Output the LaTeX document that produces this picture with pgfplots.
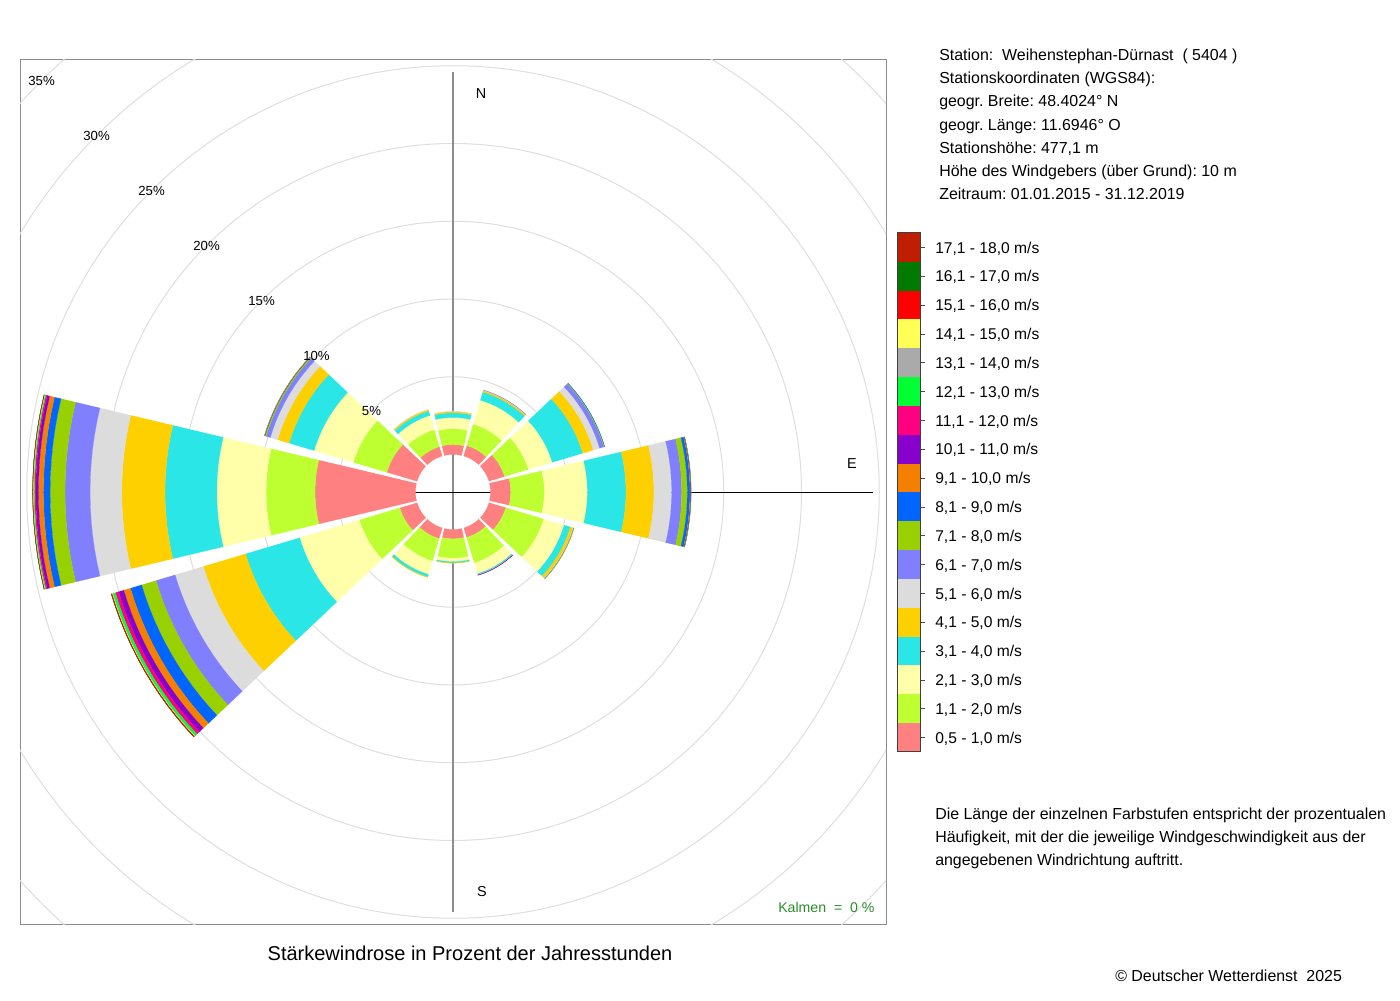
\documentclass[border=0pt]{standalone}
\usepackage{fontspec}
\setmainfont{Liberation Sans}
\usepackage{pgfplots}
\usepackage{pgfplotstable}
\pgfplotsset{compat=1.18}
\frenchspacing

\definecolor{k1}{RGB}{255,128,128}
\definecolor{k2}{RGB}{190,255,50}
\definecolor{k3}{RGB}{255,255,170}
\definecolor{k4}{RGB}{42,230,230}
\definecolor{k5}{RGB}{255,208,0}
\definecolor{k6}{RGB}{220,220,220}
\definecolor{k7}{RGB}{128,128,255}
\definecolor{k8}{RGB}{152,208,0}
\definecolor{k9}{RGB}{0,102,255}
\definecolor{k10}{RGB}{245,128,0}
\definecolor{k11}{RGB}{136,0,204}
\definecolor{k12}{RGB}{255,0,128}
\definecolor{k13}{RGB}{0,255,51}
\definecolor{k14}{RGB}{170,170,170}
\definecolor{k15}{RGB}{255,255,85}
\definecolor{k16}{RGB}{255,0,0}
\definecolor{k17}{RGB}{0,122,0}
\definecolor{k18}{RGB}{192,30,0}
\definecolor{kalm}{RGB}{40,140,40}

% percentage of hours per direction (bearing) and speed class
\pgfplotstableread{
dir c1 c2 c3 c4 c5 c6 c7 c8 c9 c10 c11 c12 c13 c14 c15 c16 c17 c18
0   0.64 1.02 0.72 0.30 0.08 0.01 0    0    0    0    0    0    0    0    0    0    0    0
30  0.70 1.45 1.60 0.55 0.10 0.02 0.01 0    0    0    0    0    0    0    0    0    0    0
60  1.05 1.60 1.60 2.05 0.71 0.42 0.28 0.05 0.01 0    0    0    0    0    0    0    0    0
90  1.30 2.16 2.77 2.48 1.80 1.14 0.65 0.36 0.17 0.04 0.02 0.01 0.01 0    0    0    0    0
120 1.13 2.55 1.37 0.42 0.18 0.03 0.03 0.01 0    0    0    0    0    0    0    0    0    0
150 0.64 1.71 0.72 0.07 0.02 0    0.01 0    0    0    0.01 0    0    0    0    0    0    0
180 0.60 1.25 0.22 0.08 0.02 0    0    0    0    0    0    0    0    0    0    0    0    0
210 0.72 1.50 0.90 0.17 0.03 0    0    0    0    0    0    0    0    0    0    0    0    0
240 1.16 2.71 4.01 3.63 2.83 1.90 1.28 0.97 0.75 0.45 0.34 0.22 0.16 0.04 0.03 0.03 0.01 0.01
270 6.46 3.15 3.17 3.33 2.78 2.04 1.61 0.96 0.43 0.32 0.17 0.08 0.05 0.03 0.02 0.02 0.01 0
300 2.03 2.25 2.63 1.68 0.77 0.49 0.28 0.08 0.03 0.01 0    0    0    0    0    0    0    0
330 0.63 1.15 0.95 0.30 0.09 0.01 0    0    0    0    0    0    0    0    0    0    0    0
}\wind

% build the annular sectors (radius in px units: hole 37.5 + 15.55 per percent)
\newcommand\allplots{}
\foreach \row in {0,...,11}{%
  \pgfplotstablegetelem{\row}{dir}\of{\wind}%
  \pgfmathsetmacro\am{90-\pgfplotsretval}%
  \gdef\cum{0}%
  \foreach \j in {1,...,18}{%
    \pgfplotstablegetelem{\row}{c\j}\of{\wind}%
    \let\val\pgfplotsretval
    \pgfmathsetmacro\rA{37.5+15.55*\cum}%
    \pgfmathsetmacro\newcum{\cum+\val}%
    \pgfmathsetmacro\rB{37.5+15.55*\newcum}%
    \xdef\cum{\newcum}%
    \ifdim\val pt>0pt
      \gdef\coords{}%
      \foreach \k in {0,...,12}{%
        \pgfmathsetmacro\ang{\am-13.4+2.23333*\k}%
        \pgfmathsetmacro\xx{\rB*cos(\ang)}%
        \pgfmathsetmacro\yy{\rB*sin(\ang)}%
        \xdef\coords{\coords(\xx,\yy)}%
      }%
      \foreach \k in {0,...,12}{%
        \pgfmathsetmacro\ang{\am+13.4-2.23333*\k}%
        \pgfmathsetmacro\xx{\rA*cos(\ang)}%
        \pgfmathsetmacro\yy{\rA*sin(\ang)}%
        \xdef\coords{\coords(\xx,\yy)}%
      }%
      \xdef\allplots{\unexpanded\expandafter{\allplots}\noexpand\addplot[fill=k\j,draw=k\j,line width=0.1pt] coordinates {\coords};}%
    \fi
  }%
}

\newcommand\fs{\fontsize{11.95}{14}\selectfont}
\newcommand\fl{\fontsize{11.7}{14}\selectfont}
\newcommand\legitem[3]{%
  \pgfmathsetmacro\ya{233+28.833*#1}%
  \pgfmathsetmacro\yb{233+28.833*(#1+1)}%
  \pgfmathsetmacro\yc{233+28.833*(#1+0.5)}%
  \pgfmathsetmacro\yt{\yc+5.6}%
  \fill[#2] (897,\ya) rectangle (920,\yb);
  \draw[black!70,line width=0.6pt] (920,\yc) -- (925,\yc);
  \node[anchor=base west,inner sep=0pt,font=\fl] at (935,\yt) {#3};
}

\begin{document}
\begin{tikzpicture}
\useasboundingbox (0pt,0pt) rectangle (1050pt,750pt);
\begin{axis}[
  at={(15pt,56.25pt)}, anchor=south west,
  scale only axis, width=649.5pt, height=648.75pt,
  xmin=-433, xmax=433, ymin=-433, ymax=432,
  ticks=none,
  axis line style={black!45,line width=0.75pt},
]
\draw[black!13,line width=0.75pt] (axis cs:0,0) circle[radius=115.25];
\draw[black!13,line width=0.75pt] (axis cs:0,0) circle[radius=193];
\draw[black!13,line width=0.75pt] (axis cs:0,0) circle[radius=270.75];
\draw[black!13,line width=0.75pt] (axis cs:0,0) circle[radius=348.5];
\draw[black!13,line width=0.75pt] (axis cs:0,0) circle[radius=426.25];
\draw[black!13,line width=0.75pt] (axis cs:0,0) circle[radius=504];
\draw[black!13,line width=0.75pt] (axis cs:0,0) circle[radius=581.75];
\draw[black!45,line width=1.3pt] (axis cs:0,420) -- (axis cs:0,-420);
\draw[black,line width=0.6pt] (axis cs:-420,0) -- (axis cs:420,0);
\allplots
\end{axis}

\begin{scope}[yshift=750pt,x=0.75pt,y=-0.75pt]
% ring labels
\node[font=\fontsize{9.9}{11}\selectfont,inner sep=0pt] at (371.5,410.5) {5\%};
\node[font=\fontsize{9.9}{11}\selectfont,inner sep=0pt] at (316.5,355.5) {10\%};
\node[font=\fontsize{9.9}{11}\selectfont,inner sep=0pt] at (261.6,300.6) {15\%};
\node[font=\fontsize{9.9}{11}\selectfont,inner sep=0pt] at (206.6,245.6) {20\%};
\node[font=\fontsize{9.9}{11}\selectfont,inner sep=0pt] at (151.6,190.6) {25\%};
\node[font=\fontsize{9.9}{11}\selectfont,inner sep=0pt] at (96.6,135.6) {30\%};
\node[font=\fontsize{9.9}{11}\selectfont,inner sep=0pt] at (41.6,80.6) {35\%};
% compass
\node[font=\fontsize{10.8}{12}\selectfont,inner sep=0pt] at (481,94) {N};
\node[font=\fontsize{10.8}{12}\selectfont,inner sep=0pt] at (852,464) {E};
\node[font=\fontsize{10.8}{12}\selectfont,inner sep=0pt] at (482,892) {S};
\node[anchor=base west,inner sep=0pt,text=kalm,font=\fontsize{10.6}{12}\selectfont] at (778,912.9) {Kalmen\ \ =\ \ 0 \%};
% title and credits
\node[anchor=base,inner sep=0pt,font=\fontsize{15}{18}\selectfont] at (470,961) {Stärkewindrose in Prozent der Jahresstunden};
\node[anchor=base west,inner sep=0pt,font=\fs] at (1115,981.6) {© Deutscher Wetterdienst\ \ 2025};
% station info
\node[anchor=base west,inner sep=0pt,font=\fs] at (939,60.6) {Station:\ \ Weihenstephan-Dürnast\ \ ( 5404 )};
\node[anchor=base west,inner sep=0pt,font=\fs] at (939,83.8) {Stationskoordinaten (WGS84):};
\node[anchor=base west,inner sep=0pt,font=\fs] at (939,107.0) {geogr. Breite: 48.4024° N};
\node[anchor=base west,inner sep=0pt,font=\fs] at (939,130.2) {geogr. Länge: 11.6946° O};
\node[anchor=base west,inner sep=0pt,font=\fs] at (939,153.4) {Stationshöhe: 477,1 m};
\node[anchor=base west,inner sep=0pt,font=\fs] at (939,176.6) {Höhe des Windgebers (über Grund): 10 m};
\node[anchor=base west,inner sep=0pt,font=\fs] at (939,199.8) {Zeitraum: 01.01.2015 - 31.12.2019};
% description
\node[anchor=base west,inner sep=0pt,font=\fs] at (935,819.6) {Die Länge der einzelnen Farbstufen entspricht der prozentualen};
\node[anchor=base west,inner sep=0pt,font=\fs] at (935,842.6) {Häufigkeit, mit der die jeweilige Windgeschwindigkeit aus der};
\node[anchor=base west,inner sep=0pt,font=\fs] at (935,865.6) {angegebenen Windrichtung auftritt.};
% legend
\legitem{0}{k18}{17,1 - 18,0 m/s}
\legitem{1}{k17}{16,1 - 17,0 m/s}
\legitem{2}{k16}{15,1 - 16,0 m/s}
\legitem{3}{k15}{14,1 - 15,0 m/s}
\legitem{4}{k14}{13,1 - 14,0 m/s}
\legitem{5}{k13}{12,1 - 13,0 m/s}
\legitem{6}{k12}{11,1 - 12,0 m/s}
\legitem{7}{k11}{10,1 - 11,0 m/s}
\legitem{8}{k10}{9,1 - 10,0 m/s}
\legitem{9}{k9}{8,1 - 9,0 m/s}
\legitem{10}{k8}{7,1 - 8,0 m/s}
\legitem{11}{k7}{6,1 - 7,0 m/s}
\legitem{12}{k6}{5,1 - 6,0 m/s}
\legitem{13}{k5}{4,1 - 5,0 m/s}
\legitem{14}{k4}{3,1 - 4,0 m/s}
\legitem{15}{k3}{2,1 - 3,0 m/s}
\legitem{16}{k2}{1,1 - 2,0 m/s}
\legitem{17}{k1}{0,5 - 1,0 m/s}
\draw[black!75,line width=0.75pt] (897,233) rectangle (920,752);
\end{scope}
\end{tikzpicture}
\end{document}
